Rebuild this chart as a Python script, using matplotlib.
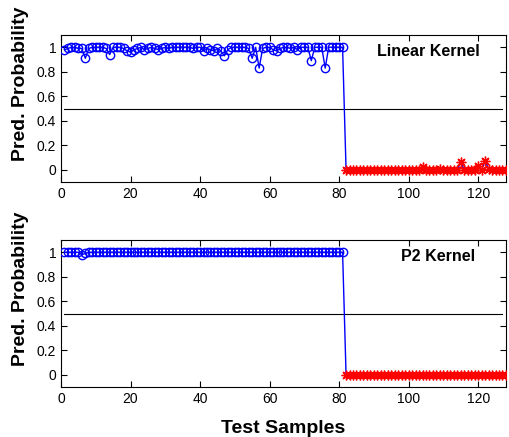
import matplotlib
matplotlib.use("Agg")
import matplotlib.pyplot as plt
import numpy as np

plt.rcParams['font.family'] = ['Liberation Sans', 'DejaVu Sans']

# Linear kernel predicted probabilities
linear_pos = [0.98, 0.99, 1.0, 1.0, 0.99, 0.99, 0.91, 0.99, 1.0, 1.0,
              1.0, 1.0, 0.99, 0.94, 1.0, 1.0, 1.0, 0.99, 0.97, 0.96,
              0.98, 0.99, 1.0, 0.98, 0.99, 1.0, 0.99, 0.98, 0.99, 1.0,
              0.99, 1.0, 1.0, 1.0, 1.0, 1.0, 1.0, 0.99, 1.0, 1.0,
              0.97, 0.99, 0.98, 0.97, 0.99, 0.97, 0.93, 0.98, 1.0, 1.0,
              1.0, 1.0, 1.0, 0.99, 0.91, 1.0, 0.83, 0.99, 1.0, 1.0,
              0.98, 0.97, 0.99, 1.0, 1.0, 0.99, 1.0, 0.98, 1.0, 1.0,
              1.0, 0.89, 1.0, 1.0, 1.0, 0.83, 1.0, 1.0, 1.0, 1.0, 1.0]
linear_neg = [0.0, 0.0, 0.0, 0.0, 0.0, 0.0, 0.0, 0.0, 0.0, 0.0,
              0.0, 0.0, 0.0, 0.0, 0.0, 0.0, 0.0, 0.0, 0.0, 0.0,
              0.0, 0.0, 0.02, 0.0, 0.0, 0.0, 0.0, 0.01, 0.0, 0.0,
              0.0, 0.0, 0.0, 0.06, 0.0, 0.0, 0.0, 0.0, 0.03, 0.0,
              0.07, 0.01, 0.0, 0.0, 0.0, 0.0, 0.0]

# P2 kernel predicted probabilities
p2_pos = [1.0] * 5 + [0.98, 0.99] + [1.0] * 74
p2_neg = [0.0] * 47

threshold = 0.5
xticks = [0, 20, 40, 60, 80, 100, 120]
yticks = [0, 0.2, 0.4, 0.6, 0.8, 1.0]
yticklabels = ['0', '0.2', '0.4', '0.6', '0.8', '1']
titles = ['Linear Kernel', 'P2 Kernel']
title_x = [0.942, 0.930]

fig = plt.figure(figsize=(5.10, 4.37), dpi=100)
ax1 = fig.add_axes([0.1196, 0.5835, 0.8725, 0.3364])
ax2 = fig.add_axes([0.1196, 0.1144, 0.8725, 0.3364])

for ax, pos, neg, title, tx in [(ax1, linear_pos, linear_neg, titles[0], title_x[0]),
                                (ax2, p2_pos, p2_neg, titles[1], title_x[1])]:
    allv = list(pos) + list(neg)
    x = np.arange(1, len(allv) + 1)
    xp = np.arange(1, len(pos) + 1)
    xn = np.arange(len(pos) + 1, len(allv) + 1)
    ax.plot(x, allv, color='#0000ff', lw=1.0, zorder=2)
    ax.plot(xp, pos, linestyle='none', marker='o', markersize=6,
            markerfacecolor='none', markeredgecolor='#0000ff', mew=1.0, zorder=3)
    ax.plot(xn, neg, linestyle='none', marker=(8, 2, 0), markersize=7,
            color='#ff0000', mew=1.0, zorder=4)
    ax.plot([1, 127], [threshold, threshold], color='black', lw=0.8, zorder=1)
    ax.set_xlim(0, 128)
    ax.set_ylim(-0.1, 1.1)
    ax.set_xticks(xticks)
    ax.set_yticks(yticks)
    ax.set_yticklabels(yticklabels)
    ax.tick_params(direction='in', top=True, right=True, labelsize=10,
                   length=4, width=0.8)
    for s in ax.spines.values():
        s.set_linewidth(0.8)
    ax.set_ylabel('Pred. Probability', fontsize=14, fontweight='bold')
    ax.yaxis.set_label_coords(-0.072, 0.67)
    ax.text(tx, 0.885, title, transform=ax.transAxes, ha='right', va='center',
            fontsize=11.5, fontweight='bold')

ax2.set_xlabel('Test Samples', fontsize=14, fontweight='bold', labelpad=10)

fig.savefig('out.png', dpi=100)
